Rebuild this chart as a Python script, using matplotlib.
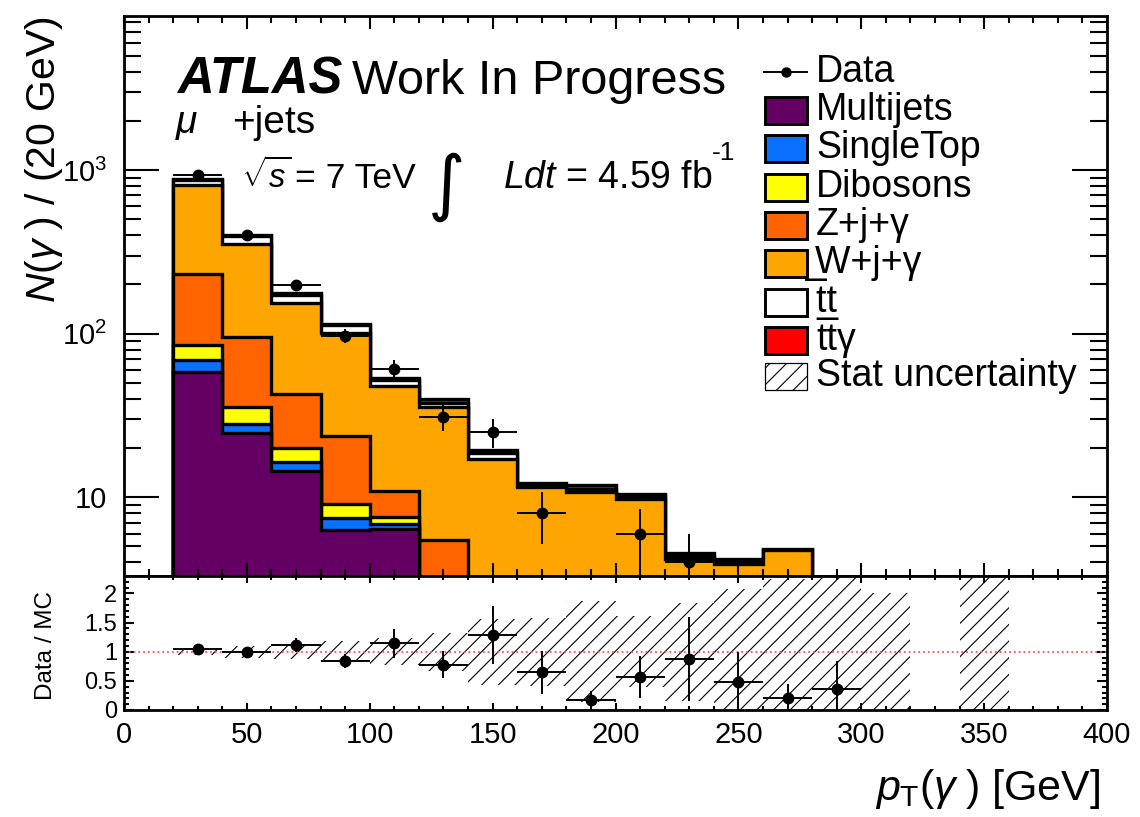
import numpy as np
import matplotlib
matplotlib.use("Agg")
import matplotlib.pyplot as plt
from matplotlib.patches import Rectangle
from matplotlib.lines import Line2D
from matplotlib.ticker import FixedLocator, FixedFormatter, MultipleLocator, LogLocator, NullFormatter

plt.rcParams['font.family'] = ['Liberation Sans', 'DejaVu Sans']
plt.rcParams['mathtext.fontset'] = 'custom'
plt.rcParams['mathtext.rm'] = 'Liberation Sans'
plt.rcParams['mathtext.it'] = 'Liberation Sans:italic'
plt.rcParams['mathtext.bf'] = 'Liberation Sans:bold'
plt.rcParams['hatch.linewidth'] = 0.8
plt.rcParams['axes.linewidth'] = 2.0

# photon pT binning, 20 GeV bins from 0 to 400
edges = np.arange(0, 420, 20)

# expected events per bin (stacked bottom -> top)
multijets = [0, 58.4, 24.6, 14.5, 6.3, 6.4, 0, 0, 0, 0, 0, 0, 0, 0, 0, 0, 0, 0, 0, 0]
singletop = [0, 11.1, 3.6, 1.9, 1.2, 0.5, 0, 0, 0, 0, 0, 0, 0, 0, 0, 0, 0, 0, 0, 0]
dibosons = [0, 15.5, 7.5, 3.5, 1.6, 0.65, 0, 0, 0, 0, 0, 0, 0, 0, 0, 0, 0, 0, 0, 0]
zjets = [0, 145, 59.8, 23.1, 14.5, 3.3, 5.46, 0, 0, 0, 0, 0, 0, 0, 0, 0, 0, 0, 0, 0]
wjets = [0, 579, 255.5, 111, 78, 36.8, 30.2, 17.1, 11.5, 10.7, 9.8, 4.22, 3.93, 4.74, 2.7, 1.5, 0, 0.8, 0, 0]
ttbar = [0, 60, 43, 19.4, 11, 4.5, 1.9, 1.5, 0.4, 0.5, 0.35, 0.17, 0.13, 0.03, 0.03, 0, 0, 0, 0, 0]
ttgamma = [0, 18, 8, 3.6, 2.4, 1.1, 2.4, 0.9, 0.4, 0.6, 0.35, 0.17, 0.14, 0.03, 0.03, 0, 0, 0, 0, 0]

# observed events
data = [0, 930, 400, 198, 97, 61, 31, 25, 8, 2, 6, 4, 2, 1, 1, 0, 0, 0, 0, 0]

# ratio panel: error on data/MC and relative MC stat uncertainty
ratio_err = [0, 0.03, 0.03, 0.12, 0.12, 0.25, 0.235, 0.50, 0.37, 0.15, 0.36, 0.72, 0.52, 0.24, 0.48, 0, 0, 0, 0, 0]
mc_stat_rel = [0, 0.057, 0.10, 0.13, 0.18, 0.23, 0.33, 0.57, 0.58, 0.87, 0.61, 0.84, 1.07, 1.24, 1.5, 1.0, 0, 1.5, 0, 0]

samples = ["Multijets", "SingleTop", "Dibosons", "Z+j+\u03b3", "\u0332W+j+\u03b3", "t\u0332t", "tt\u03b3"]
colors = ["#640064", "#0a70ff", "#ffff00", "#ff6400", "#ffa500", "#ffffff", "#ff0000"]

ytick_vals = [10, 100, 1000]
ytick_labels = ["10", "$10^{2}$", "$10^{3}$"]
rtick_vals = [0, 0.5, 1, 1.5, 2]
rtick_labels = ["0", "0.5", "1", "1.5", "2"]

W, H = 1140, 817
HIST_LW = 2.4


def fxy(x, y):
    # pixel position -> figure fraction
    return x / W, 1 - y / H


fig = plt.figure(figsize=(W / 100, H / 100), dpi=100)
ax = fig.add_axes([124 / W, 1 - 576 / H, 983 / W, 560 / H])
rax = fig.add_axes([124 / W, 1 - 710 / H, 983 / W, 134 / H], sharex=ax)

# ---- main panel: stacked MC ----
stack = np.cumsum(np.array([multijets, singletop, dibosons, zjets, wjets, ttbar, ttgamma], dtype=float), axis=0)
for i in reversed(range(len(samples))):
    ax.stairs(stack[i], edges, baseline=1e-3, fill=True, facecolor=colors[i],
              edgecolor="black", linewidth=HIST_LW)

centers = 0.5 * (edges[:-1] + edges[1:])
data = np.array(data, dtype=float)
total = stack[-1]
ymin, ymax = 3.3, 8750
shown = data > ymin
ax.errorbar(centers[shown], data[shown], xerr=10, yerr=np.sqrt(data[shown]), fmt="o",
            color="black", markersize=7.5, elinewidth=1.4, capsize=0)

ax.set_yscale("log")
ax.set_xlim(0, 400)
ax.set_ylim(ymin, ymax)
ax.yaxis.set_major_locator(FixedLocator(ytick_vals))
ax.yaxis.set_major_formatter(FixedFormatter(ytick_labels))
ax.yaxis.set_minor_locator(LogLocator(subs=np.arange(2, 10)))
ax.yaxis.set_minor_formatter(NullFormatter())
ax.xaxis.set_major_locator(MultipleLocator(50))
ax.xaxis.set_minor_locator(MultipleLocator(10))
ax.tick_params(which="both", direction="in", top=True, right=True, width=1.5)
ax.tick_params(axis="x", which="major", length=9.5, labelbottom=False)
ax.tick_params(axis="x", which="minor", length=5)
ax.tick_params(axis="y", which="major", length=25, labelsize=21, pad=12)
ax.tick_params(axis="y", which="minor", length=12)

# ---- ratio panel ----
mc_stat_rel = np.array(mc_stat_rel)
has_mc = mc_stat_rel > 0
rax.bar(centers[has_mc], 2 * mc_stat_rel[has_mc], width=20, bottom=1 - mc_stat_rel[has_mc],
        fill=False, hatch="//", edgecolor="black", linewidth=0)
rax.axhline(1, color="#ff5050", linestyle=":", linewidth=1.3)
has_data = (data > 0) & (total > 0)
ratio = np.divide(data, total, out=np.zeros_like(data), where=total > 0)
rax.errorbar(centers[has_data], ratio[has_data], xerr=10, yerr=np.array(ratio_err)[has_data],
             fmt="o", color="black", markersize=7.5, elinewidth=1.4, capsize=0)
rax.set_ylim(0, 2.3)
rax.yaxis.set_major_locator(FixedLocator(rtick_vals))
rax.yaxis.set_major_formatter(FixedFormatter(rtick_labels))
rax.yaxis.set_minor_locator(MultipleLocator(0.1))
rax.tick_params(which="both", direction="in", top=True, right=True, width=1.5)
rax.tick_params(axis="x", which="major", length=5, labelsize=21, pad=8)
rax.tick_params(axis="x", which="minor", length=3)
rax.tick_params(axis="y", which="major", length=7, labelsize=17, pad=5)
rax.tick_params(axis="y", which="minor", length=3.5)

# ---- axis titles ----
fig.text(*fxy(44, 16), r"$N(\gamma\;)$ / (20 GeV)", fontsize=29.5, rotation=90, ha="center", va="top")
fig.text(*fxy(46, 645), "Data / MC", fontsize=17.5, rotation=90, ha="center", va="center")
fig.text(*fxy(1100, 800), r"$p_{\mathrm{T}}(\gamma\;)$ [GeV]", fontsize=31, ha="right", va="baseline")

# ---- labels ----
fig.text(*fxy(177, 94), "ATLAS", fontsize=36.5, fontweight="bold", fontstyle="italic", va="baseline")
fig.text(*fxy(352, 94), "Work In Progress", fontsize=35, va="baseline")
fig.text(*fxy(175, 133), r"$\mu$", fontsize=28, va="baseline")
fig.text(*fxy(232, 133), "+jets", fontsize=28, va="baseline")
fig.text(*fxy(241, 188), r"$\sqrt{s}$", fontsize=23.5, va="baseline")
fig.text(*fxy(295, 188), "= 7 TeV", fontsize=25.5, va="baseline")
fig.text(*fxy(428, 207), "\u222b", fontsize=52, family="DejaVu Sans", va="baseline")
fig.text(*fxy(503, 188), r"$Ldt$ = 4.59 fb", fontsize=27, va="baseline")
fig.text(*fxy(712, 160), "-1", fontsize=19, va="baseline")

# ---- legend ----
row0, step = 81.7, 38.3
ly = row0 - 10
fig.add_artist(Line2D([764 / W, 807 / W], [1 - ly / H] * 2, color="black", linewidth=1.4))
fig.add_artist(Line2D([786 / W], [1 - ly / H], marker="o", color="black", markersize=6.5))
fig.text(*fxy(816, row0), "Data", fontsize=27, va="baseline")
box_w, box_h = 42, 27
for i, name in enumerate(samples):
    base = row0 + step * (i + 1)
    fig.add_artist(Rectangle(fxy(765, base + 4), box_w / W, box_h / H, transform=fig.transFigure,
                             facecolor=colors[i], edgecolor="black", linewidth=2.1))
    fig.text(*fxy(816, base), name, fontsize=27, va="baseline")
base = row0 + step * (len(samples) + 1) - 2
fig.add_artist(Rectangle(fxy(765, base + 4), box_w / W, box_h / H, transform=fig.transFigure,
                         facecolor="none", edgecolor="black", hatch="//", linewidth=0.9))
fig.text(*fxy(816, base), "Stat uncertainty", fontsize=27, va="baseline")

fig.savefig("out.png", dpi=100)
